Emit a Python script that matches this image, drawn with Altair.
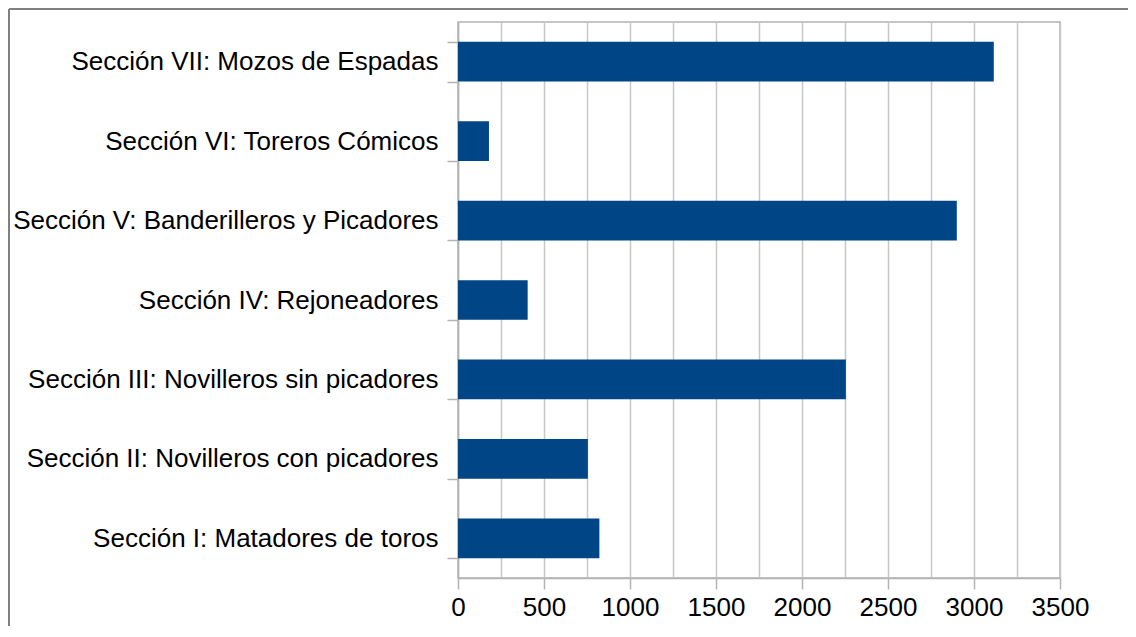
import altair as alt
import pandas as pd

categories = [
    "Sección VII: Mozos de Espadas",
    "Sección VI: Toreros Cómicos",
    "Sección V: Banderilleros y Picadores",
    "Sección IV: Rejoneadores",
    "Sección III: Novilleros sin picadores",
    "Sección II: Novilleros con picadores",
    "Sección I: Matadores de toros",
]
values = [3115, 180, 2900, 405, 2255, 755, 822]
x_ticks = [0, 500, 1000, 1500, 2000, 2500, 3000, 3500]
x_grid = [i * 250 for i in range(15)]

df = pd.DataFrame({"seccion": categories, "valor": values})

FONT = "Liberation Sans"

bars = alt.Chart(df).mark_bar(color="#004586").encode(
    x=alt.X(
        "valor:Q",
        scale=alt.Scale(domain=[0, 3500], nice=False),
        axis=alt.Axis(
            values=x_grid,
            format="d",
            grid=True,
            gridColor="#c8c8c8",
            gridWidth=1.5,
            domainColor="#b3b3b3",
            domainWidth=1.5,
            tickColor="#b3b3b3",
            tickWidth=1.5,
            tickSize=11,
            tickOpacity={"condition": {"test": "datum.value % 500 === 0", "value": 1}, "value": 0},
            labelExpr="datum.value % 500 === 0 ? datum.label : ''",
            labelPadding=5,
            labelFlush=False,
            labelOverlap=False,
            labelFont=FONT,
            labelFontSize=26,
            labelColor="#000000",
            title=None,
        ),
    ),
    y=alt.Y(
        "seccion:N",
        sort=categories,
        scale=alt.Scale(paddingInner=0.5, paddingOuter=0.25),
        axis=alt.Axis(
            grid=False,
            tickBand="extent",
            tickSize=11,
            tickColor="#b3b3b3",
            tickWidth=1.5,
            domainColor="#b3b3b3",
            domainWidth=1.5,
            labelPadding=9,
            labelLimit=600,
            labelFont=FONT,
            labelFontSize=26,
            labelColor="#000000",
            title=None,
        ),
    ),
)

one = pd.DataFrame({"a": [0]})
frame_left = alt.Chart(one).mark_rule(color="#808080", strokeWidth=2).encode(
    x=alt.value(-449), y=alt.value(-13), y2=alt.value(700)
)
frame_top = alt.Chart(one).mark_rule(color="#808080", strokeWidth=2).encode(
    x=alt.value(-449), x2=alt.value(1000), y=alt.value(-13)
)

chart = alt.layer(bars, frame_left, frame_top).properties(
    width=602,
    height=556,
    autosize=alt.AutoSizeParams(type="none"),
    padding={"left": 450, "top": 14, "right": 68, "bottom": 48},
    background="white",
).configure_view(
    stroke="#b3b3b3", strokeWidth=1.5
)

chart.save("out.html", embed_options={"renderer": "svg", "actions": False})
